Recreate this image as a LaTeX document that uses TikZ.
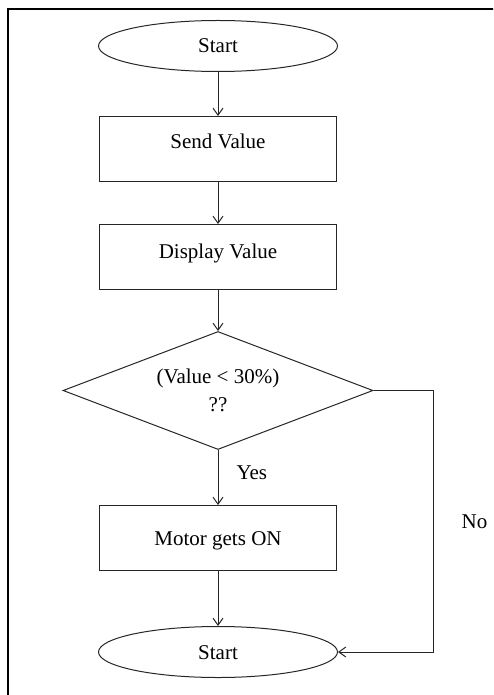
\documentclass[tikz,border=0pt]{standalone}
\usepackage{fontspec}
\setmainfont{Liberation Serif}
\usepackage{tikz}
\usetikzlibrary{shapes.geometric,arrows.meta,positioning}

\begin{document}
\begin{tikzpicture}[node distance=22pt, font=\fontsize{10.5}{12.6}\selectfont,
    terminal/.style={ellipse, draw=black!85, line width=0.5pt, minimum width=119.5pt, minimum height=25.5pt, text height=7pt, text depth=0pt},
    block/.style={rectangle, draw=black!85, line width=0.5pt, minimum width=118.5pt, minimum height=32.5pt, text height=7pt},
    decision/.style={diamond, draw=black!85, line width=0.5pt, minimum width=155pt, minimum height=59pt, inner sep=0pt, aspect=2.63, align=center, font=\fontsize{10.5}{13.7}\selectfont},
    arrow/.style={-{Straight Barb[length=3.5pt,width=5pt]}, draw=black!85, line width=0.5pt}]

    % page and frame
    \useasboundingbox (0,0) rectangle (246.5pt,-347.5pt);
    \clip (0,0) rectangle (246.5pt,-347.5pt);
    \draw[line width=1pt] (4pt,-4.5pt) rectangle (260pt,-360pt);

    \node[terminal] (start) at (109pt,-23pt) {Start};
    \node[block, text depth=7pt, below=22pt of start] (send) {Send Value};
    \node[block, text depth=5.5pt, below=21pt of send] (show) {Display Value};
    \node[decision, below=20.5pt of show] (check) {(Value < 30\%)\\??};
    \node[block, text depth=0pt, below=27.5pt of check] (motor) {Motor gets ON};
    \node[terminal, below=27.5pt of motor] (stop) {Start};

    \draw[arrow] (start) -- (send);
    \draw[arrow] (send) -- (show);
    \draw[arrow] (show) -- (check);
    \draw[arrow] (check) -- node[pos=0.42, right=5.7pt] {Yes} (motor);
    \draw[arrow] (motor) -- (stop);
    \draw[arrow] (check.east) -- ++(30pt,0) |- node[pos=0.25, right=10.5pt] {No} (stop.east);
\end{tikzpicture}
\end{document}
